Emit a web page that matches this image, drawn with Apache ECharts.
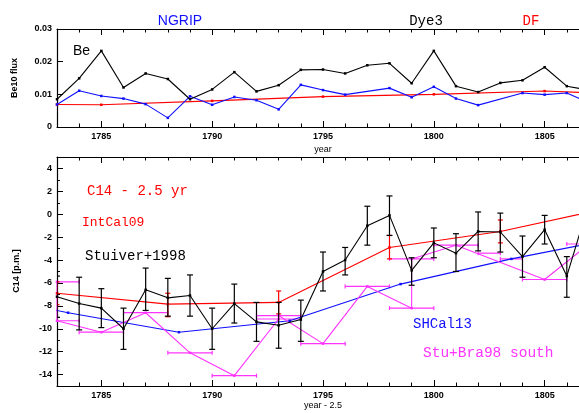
<!DOCTYPE html>
<html>
<head>
<meta charset="utf-8">
<script src="https://cdn.jsdelivr.net/npm/echarts@6/dist/echarts.min.js"></script>
<style>
  html, body { margin: 0; padding: 0; background: #fff; }
  #chart { width: 579px; height: 413px; }
</style>
</head>
<body>
<div id="chart"></div>
<script>
// upper panel: Be10 flux
const dye3Years = [1783,1784,1785,1786,1787,1788,1789,1790,1791,1792,1793,1794,1795,1796,1797,1798,1799,1800,1801,1802,1803,1804,1805,1806,1807];
const dye3Flux  = [0.0085,0.0149,0.0233,0.0121,0.0164,0.0147,0.0085,0.0115,0.0168,0.0109,0.0128,0.0175,0.0176,0.0164,0.0189,0.0195,0.0134,0.0233,0.0125,0.0107,0.0135,0.0143,0.0183,0.0125,0.0113];
const ngripYears = [1783,1784,1785,1786,1787,1788,1789,1790,1791,1792,1793,1794,1795,1796,1798,1799,1800,1801,1802,1804,1805,1806,1807];
const ngripFlux  = [0.0069,0.0111,0.0095,0.0087,0.0070,0.0028,0.0094,0.0068,0.0092,0.0082,0.0054,0.0129,0.0113,0.0099,0.0119,0.0091,0.0123,0.0087,0.0067,0.0104,0.0099,0.0104,0.0074];
const dfYears = [1783,1785,1790,1795,1800,1805,1807];
const dfFlux  = [0.0069,0.0068,0.0080,0.0093,0.0100,0.0110,0.0105];

// lower panel: C14 (p.m.)
const stuiverYears = [1783,1784,1785,1786,1787,1788,1789,1790,1791,1792,1793,1794,1795,1796,1797,1798,1799,1800,1801,1802,1803,1804,1805,1806,1807];
const stuiverC14 = [-7.2,-7.8,-8.2,-10.0,-6.6,-7.3,-7.1,-10.0,-7.8,-9.4,-9.7,-9.2,-5.0,-4.0,-1.0,-0.1,-4.9,-2.5,-3.4,-1.5,-1.55,-3.7,-1.35,-5.4,1.0];
const stuiverHi  = [-5.4,-5.5,-6.5,-8.2,-4.7,-5.6,-5.3,-8.2,-6.1,-7.7,-7.7,-7.5,-3.3,-2.9,0.7,1.6,-3.8,-1.2,-1.7,0.2,0.1,-1.9,-0.1,-3.7,2.7];
const stuiverLo  = [-9.0,-10.1,-9.9,-11.8,-8.4,-8.9,-8.9,-11.8,-9.5,-11.1,-11.7,-11.1,-6.7,-5.3,-2.7,-1.85,-6.2,-3.8,-5.0,-3.2,-3.3,-5.5,-2.6,-7.25,-0.7];

const intcalYears = [1783,1788,1793,1798,1803,1808];
const intcalC14 = [-6.9,-7.85,-7.7,-2.9,-1.5,0.6];
const intcalHi  = [-5.9,-6.9,-6.7,-1.85,-0.5,1.6];
const intcalLo  = [-7.9,-8.95,-8.7,-3.9,-2.5,-0.4];

const shcalYears = [1778.5,1783.5,1788.5,1793.5,1798.5,1803.5,1808.5];
const shcalC14 = [-6.6,-8.6,-10.3,-9.3,-6.1,-3.9,-2.0];

const southYears = [1783,1783,1785,1787,1789,1791,1793,1793,1795,1797,1799,1799,1801,1805,1807];
const southC14  = [-5.9,-9.3,-10.3,-8.6,-12.1,-14.1,-9.15,-8.85,-11.3,-6.3,-8.2,-3.9,-2.7,-5.7,-2.6];
const southBarC14  = [-5.9,-9.3,-10.3,-8.6,-12.1,-14.1,-8.85,-9.15,-11.3,-6.3,-8.2,-3.9,-2.7,-3.4,-3.9,-5.7,-2.6];
const southBarFrom = [1782,1782,1784,1786,1788,1790,1792,1792,1794,1796,1798,1798,1800,1802,1803,1804,1806];
const southBarTo   = [1784,1784,1786,1788,1790,1792,1794,1794,1796,1798,1800,1800,1802,1803,1804,1806,1808];

// ticks
const yearTicks = [1785,1790,1795,1800,1805];
const yearMinor = [1783,1784,1786,1787,1788,1789,1791,1792,1793,1794,1796,1797,1798,1799,1801,1802,1803,1804,1806];
const beTicks = [0,0.01,0.02,0.03];
const c14Ticks = [-14,-12,-10,-8,-6,-4,-2,0,2,4];
const c14Minor = [-13,-11,-9,-7,-5,-3,-1,1,3];

const zip = (xs, ys) => xs.map((x, i) => [x, ys[i]]);
const lbl = { color: '#000', fontWeight: 'bold', fontSize: 9, fontFamily: 'Liberation Sans' };
const axLine = { onZero: false, lineStyle: { color: '#000', width: 1.2 } };

function xAxes(g) {
  const base = { type: 'value', gridIndex: g, min: 1783, max: 1806.55, splitLine: { show: false } };
  const tick = (vals, len) => ({ inside: true, length: len, customValues: vals, lineStyle: { color: '#000', width: 1 } });
  return [
    { ...base, position: 'bottom', axisLine: axLine, axisTick: tick(yearTicks, 6),
      axisLabel: { ...lbl, customValues: yearTicks, margin: 5, formatter: v => String(v) } },
    { ...base, position: 'bottom', axisLine: { show: false, onZero: false }, axisTick: tick(yearMinor, 3.5), axisLabel: { show: false } },
    { ...base, position: 'top', axisLine: axLine, axisTick: tick(yearTicks, 6), axisLabel: { show: false } },
    { ...base, position: 'top', axisLine: { show: false, onZero: false }, axisTick: tick(yearMinor, 3.5), axisLabel: { show: false } }
  ];
}

function vErr(xi, yi, xs, lo, hi, color, cap) {
  return {
    type: 'custom', xAxisIndex: xi, yAxisIndex: yi, clip: true, z: 3,
    data: xs.map((x, i) => [x, lo[i], hi[i]]),
    encode: { x: 0, y: [1, 2] },
    renderItem(params, api) {
      const a = api.coord([api.value(0), api.value(1)]);
      const b = api.coord([api.value(0), api.value(2)]);
      const st = { stroke: color, lineWidth: 1.2 };
      return { type: 'group', children: [
        { type: 'line', shape: { x1: a[0], y1: a[1], x2: b[0], y2: b[1] }, style: st },
        { type: 'line', shape: { x1: a[0] - cap, y1: a[1], x2: a[0] + cap, y2: a[1] }, style: st },
        { type: 'line', shape: { x1: b[0] - cap, y1: b[1], x2: b[0] + cap, y2: b[1] }, style: st }
      ]};
    }
  };
}

function hErr(xi, yi, ys, from, to, color) {
  return {
    type: 'custom', xAxisIndex: xi, yAxisIndex: yi, clip: true, z: 2,
    data: ys.map((y, i) => [from[i], to[i], y]),
    encode: { x: [0, 1], y: 2 },
    renderItem(params, api) {
      const a = api.coord([api.value(0), api.value(2)]);
      const b = api.coord([api.value(1), api.value(2)]);
      const st = { stroke: color, lineWidth: 1.2 };
      return { type: 'group', children: [
        { type: 'line', shape: { x1: a[0], y1: a[1], x2: b[0], y2: b[1] }, style: st },
        { type: 'line', shape: { x1: a[0], y1: a[1] - 2, x2: a[0], y2: a[1] + 2 }, style: st },
        { type: 'line', shape: { x1: b[0], y1: b[1] - 2, x2: b[0], y2: b[1] + 2 }, style: st }
      ]};
    }
  };
}

function line(xi, yi, data, color, size, z) {
  return {
    type: 'line', xAxisIndex: xi, yAxisIndex: yi, data: data, z: z || 2,
    symbol: size ? 'rect' : 'none', symbolSize: size, showSymbol: !!size,
    itemStyle: { color: color }, lineStyle: { color: color, width: 1.1 }
  };
}

const mono = 'Liberation Mono';
function txt(x, y, s, color, size, family, align) {
  return { type: 'text', x: x, y: y, style: {
    text: s, fill: color, font: size + 'px "' + family + '"',
    align: align || 'left', textAlign: align || 'left', verticalAlign: 'middle', textVerticalAlign: 'middle' } };
}

const chart = echarts.init(document.getElementById('chart'));
chart.setOption({
  animation: false,
  backgroundColor: '#fff',
  grid: [
    { left: 57, top: 29, right: 0, height: 98 },
    { left: 57, top: 157, right: 0, height: 229 }
  ],
  xAxis: [...xAxes(0), ...xAxes(1)],
  yAxis: [
    { type: 'value', gridIndex: 0, position: 'left', min: 0, max: 0.03, splitLine: { show: false }, axisLine: axLine,
      axisTick: { inside: true, length: 6, customValues: beTicks, lineStyle: { color: '#000' } },
      axisLabel: { ...lbl, customValues: beTicks, margin: 5, formatter: v => v === 0 ? '0' : v.toFixed(2) } },
    { type: 'value', gridIndex: 1, position: 'left', min: -15, max: 5, splitLine: { show: false }, axisLine: axLine,
      axisTick: { inside: true, length: 6, customValues: c14Ticks, lineStyle: { color: '#000' } },
      axisLabel: { ...lbl, customValues: c14Ticks, margin: 5, formatter: v => String(v) } },
    { type: 'value', gridIndex: 1, position: 'left', min: -15, max: 5, splitLine: { show: false }, axisLine: { show: false, onZero: false },
      axisTick: { inside: true, length: 3, customValues: c14Minor, lineStyle: { color: '#000' } },
      axisLabel: { show: false } }
  ],
  series: [
    line(0, 0, zip(dfYears, dfFlux), '#ff0000', 2.5),
    line(0, 0, zip(ngripYears, ngripFlux), '#1010ff', 2.5),
    line(0, 0, zip(dye3Years, dye3Flux), '#000', 2.5),

    line(4, 1, zip(shcalYears, shcalC14), '#1010ff', 2.5),
    line(4, 1, zip(intcalYears, intcalC14), '#ff0000', 2.5),
    vErr(4, 1, intcalYears, intcalLo, intcalHi, '#ff0000', 2.5),
    hErr(4, 1, southBarC14, southBarFrom, southBarTo, '#ff33ff'),
    line(4, 1, zip(southYears, southC14), '#ff33ff', 2.5),
    vErr(4, 1, stuiverYears, stuiverLo, stuiverHi, '#000', 3),
    line(4, 1, zip(stuiverYears, stuiverC14), '#000', 2.5, 4)
  ],
  graphic: [
    txt(180, 21, 'NGRIP', '#1010ff', 14, 'Liberation Sans', 'center'),
    txt(426, 21, 'Dye3', '#000', 14, mono, 'center'),
    txt(531, 21, 'DF', '#ff0000', 14, mono, 'center'),
    txt(73, 51, 'Be', '#000', 14, 'Liberation Sans'),
    txt(323, 150, 'year', '#000', 9, 'Liberation Sans', 'center'),
    txt(323, 406, 'year - 2.5', '#000', 9, 'Liberation Sans', 'center'),
    { type: 'text', x: 15, y: 78, rotation: Math.PI / 2, style: { text: 'Be10 flux', fill: '#000',
      font: 'bold 9px "Liberation Sans"', align: 'center', textAlign: 'center', verticalAlign: 'middle', textVerticalAlign: 'middle' } },
    { type: 'text', x: 17, y: 271, rotation: Math.PI / 2, style: { text: 'C14 [p.m.]', fill: '#000',
      font: 'bold 9px "Liberation Sans"', align: 'center', textAlign: 'center', verticalAlign: 'middle', textVerticalAlign: 'middle' } },
    txt(87, 191, 'C14 - 2.5 yr', '#ff0000', 14, mono),
    txt(82, 223, 'IntCal09', '#ff0000', 13, mono),
    txt(85, 256, 'Stuiver+1998', '#000', 14, mono),
    txt(413, 324, 'SHCal13', '#1010ff', 14, mono),
    txt(423, 353, 'Stu+Bra98 south', '#ff33ff', 14.5, mono)
  ]
});
</script>
</body>
</html>
